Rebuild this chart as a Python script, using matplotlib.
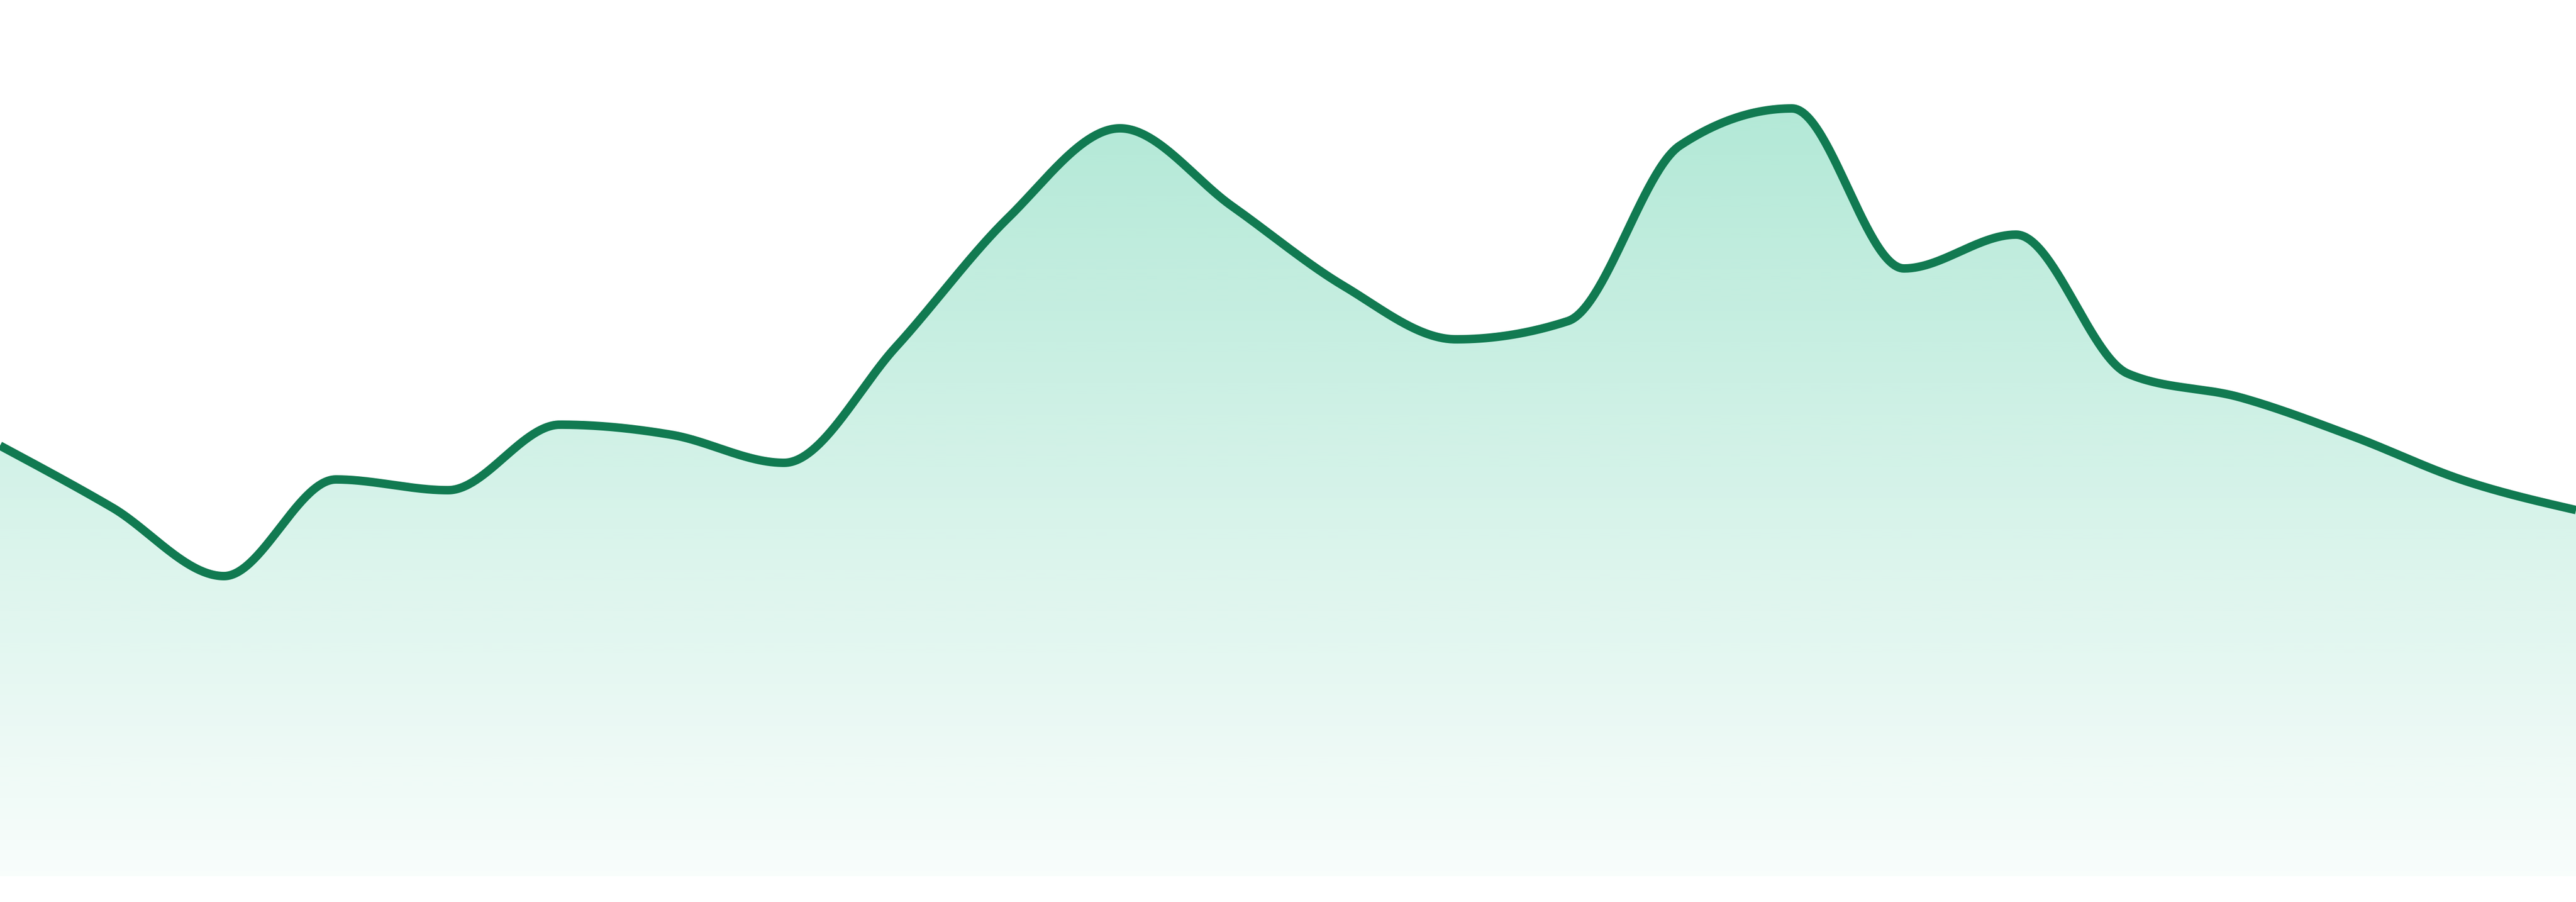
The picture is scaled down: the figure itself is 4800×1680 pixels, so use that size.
import numpy as np
import matplotlib
matplotlib.use("Agg")
import matplotlib.pyplot as plt
from matplotlib.patches import Polygon

# values (height above the baseline, in px of the 1632 px plot)
points = list(range(24))
values = [802, 687, 559, 739, 719, 841, 822, 770, 986, 1226, 1393, 1248,
          1099, 1000, 1034, 1361, 1430, 1132, 1195, 936, 892, 820, 737, 682]

line_color = "#117a51"
fill_color = "#10b981"


def monotone_x(x, y, n=60):
    # same idea as d3.curveMonotoneX
    x = np.asarray(x, float)
    y = np.asarray(y, float)
    h = np.diff(x)
    s = np.diff(y) / h
    m = np.zeros_like(y)
    for i in range(1, len(y) - 1):
        p = (s[i - 1] * h[i] + s[i] * h[i - 1]) / (h[i - 1] + h[i])
        m[i] = (np.sign(s[i - 1]) + np.sign(s[i])) * min(abs(s[i - 1]), abs(s[i]), 0.5 * abs(p))
    m[0] = (3 * s[0] - m[1]) / 2
    m[-1] = (3 * s[-1] - m[-2]) / 2
    xs, ys = [], []
    for i in range(len(h)):
        t = np.linspace(0, 1, n, endpoint=False)
        h00 = 2 * t**3 - 3 * t**2 + 1
        h10 = t**3 - 2 * t**2 + t
        h01 = -2 * t**3 + 3 * t**2
        h11 = t**3 - t**2
        xs.append(x[i] + t * h[i])
        ys.append(h00 * y[i] + h10 * h[i] * m[i] + h01 * y[i + 1] + h11 * h[i] * m[i + 1])
    xs.append([x[-1]])
    ys.append([y[-1]])
    return np.concatenate(xs), np.concatenate(ys)


fig = plt.figure(figsize=(16, 5.6), dpi=300)
ax = fig.add_axes([0, 48 / 1680, 1, 1632 / 1680])
ax.set_xlim(points[0], points[-1])
ax.set_ylim(0, 1632)
ax.axis("off")

cx, cy = monotone_x(points, values)

# gradient fill under the curve
poly = Polygon(np.column_stack([np.r_[cx, cx[-1], cx[0]], np.r_[cy, 0, 0]]),
               closed=True, facecolor="none", edgecolor="none")
ax.add_patch(poly)
rgb = matplotlib.colors.to_rgb(fill_color)
grad = np.zeros((256, 1, 4))
grad[:, 0, :3] = rgb
grad[:, 0, 3] = np.linspace(0.36, 0.03, 256)
img = ax.imshow(grad, extent=[points[0], points[-1], 0, 1632], origin="upper",
                aspect="auto", interpolation="bilinear")
img.set_clip_path(poly)

ax.plot(cx, cy, color=line_color, linewidth=3.8, solid_capstyle="butt")

fig.savefig("out.png", dpi=300)
